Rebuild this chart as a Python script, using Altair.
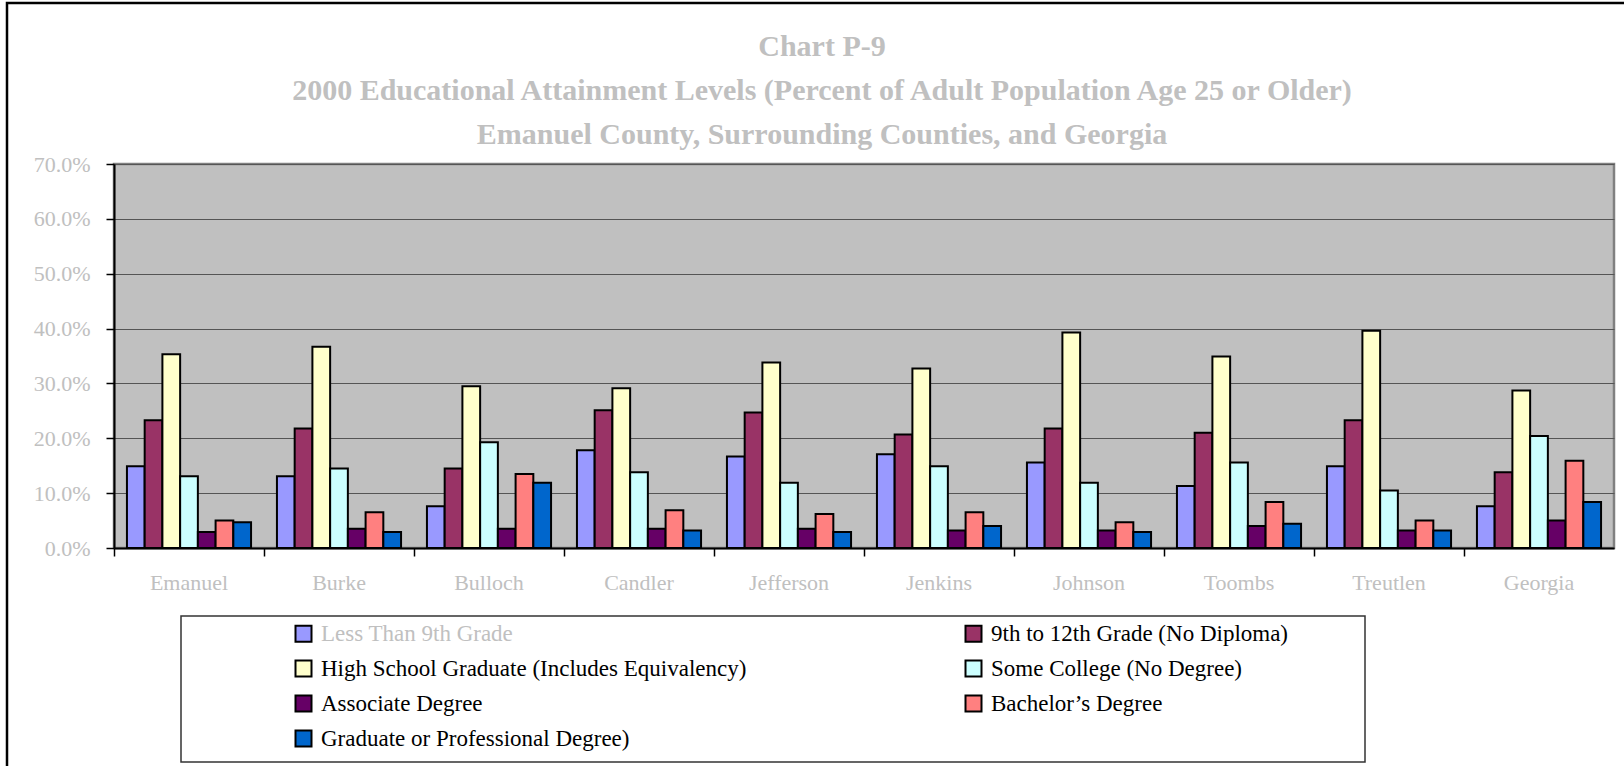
import altair as alt
import pandas as pd

# Counties along the x axis
counties = ["Emanuel", "Burke", "Bulloch", "Candler", "Jefferson",
            "Jenkins", "Johnson", "Toombs", "Treutlen", "Georgia"]

# Attainment levels (bar order within each county) and their fill colours
levels = [
    "Less Than 9th Grade",
    "9th to 12th Grade (No Diploma)",
    "High School Graduate (Includes Equivalency)",
    "Some College (No Degree)",
    "Associate Degree",
    "Bachelor\u2019s Degree",
    "Graduate or Professional Degree)",
]
level_colors = ["#9999FF", "#993366", "#FFFFCC", "#CCFFFF",
                "#660066", "#FF8080", "#0066CC"]

# Percent of adults 25+ by county, one list per attainment level
less_than_9th = [14.9, 13.1, 7.6, 17.8, 16.7, 17.1, 15.6, 11.3, 14.9, 7.6]
grade_9_to_12 = [23.3, 21.8, 14.5, 25.1, 24.7, 20.7, 21.8, 21.0, 23.3, 13.8]
high_school = [35.3, 36.7, 29.5, 29.1, 33.8, 32.7, 39.3, 34.9, 39.6, 28.7]
some_college = [13.1, 14.5, 19.3, 13.8, 11.9, 14.9, 11.9, 15.6, 10.5, 20.4]
associate = [2.9, 3.5, 3.5, 3.5, 3.5, 3.2, 3.2, 4.0, 3.2, 5.0]
bachelor = [5.0, 6.5, 13.5, 6.9, 6.2, 6.5, 4.7, 8.4, 5.0, 15.9]
graduate = [4.7, 2.9, 11.9, 3.2, 2.9, 4.0, 2.9, 4.4, 3.2, 8.4]

series = [less_than_9th, grade_9_to_12, high_school, some_college,
          associate, bachelor, graduate]

rows = []
for level, vals in zip(levels, series):
    for county, v in zip(counties, vals):
        rows.append({"County": county, "Level": level, "Percent": v})
df = pd.DataFrame(rows)

# The legend fills its two columns top to bottom; list entries so they read
# left-to-right across rows in the level order.
legend_order = [levels[i] for i in (0, 2, 4, 6, 1, 3, 5)]
legend_colors = [level_colors[i] for i in (0, 2, 4, 6, 1, 3, 5)]

FONT = "Liberation Serif"
GREY = "#c0c0c0"
W, H = 1500, 384
PAD_L, PAD_T = 114, 164

bars = alt.Chart(df).mark_bar(stroke="black", strokeWidth=2).encode(
    x=alt.X("County:N", sort=counties, title=None,
            scale=alt.Scale(paddingInner=0, paddingOuter=0),
            axis=alt.Axis(labelAngle=0, bandPosition=0,
                          tickSize=8, tickColor="black", tickWidth=1.5,
                          domainColor="black", domainWidth=2,
                          labelColor=GREY, labelFont=FONT, labelFontSize=22,
                          labelPadding=16, grid=False)),
    xOffset=alt.XOffset("Level:N", sort=levels,
                        scale=alt.Scale(paddingInner=0, paddingOuter=0.73)),
    y=alt.Y("Percent:Q", title=None,
            scale=alt.Scale(domain=[0, 70], nice=False),
            axis=alt.Axis(values=[0, 10, 20, 30, 40, 50, 60, 70],
                          labelExpr="format(datum.value, '.1f') + '%'",
                          tickSize=8, tickColor="black", tickWidth=1.5,
                          domainColor="black", domainWidth=2,
                          labelColor=GREY, labelFont=FONT, labelFontSize=22,
                          labelPadding=16,
                          grid=True, gridColor="#555555", gridWidth=1.2)),
    color=alt.Color(
        "Level:N",
        scale=alt.Scale(domain=legend_order, range=legend_colors),
        legend=alt.Legend(
            title=None, orient="none", legendX=178, legendY=458,
            columns=2, columnPadding=214, rowPadding=10,
            symbolType="square", symbolSize=256,
            symbolStrokeColor="black", symbolStrokeWidth=2,
            symbolOpacity=1,
            labelFont=FONT, labelFontSize=23,
            labelColor=alt.ExprRef(
                "datum.value === 'Less Than 9th Grade' ? '#c0c0c0' : 'black'"),
            labelOffset=6, labelLimit=600,
        ),
    ),
)

one = alt.Data(values=[{}])

# Frame around the legend
legend_box = alt.Chart(one).mark_rect(
    fill=None, stroke="#333333", strokeWidth=1.5
).encode(
    x=alt.value(67), x2=alt.value(1251),
    y=alt.value(452), y2=alt.value(598),
)

# Outer frame of the whole chart
outer_box = alt.Chart(one).mark_rect(
    fill=None, stroke="black", strokeWidth=2.5
).encode(
    x=alt.value(7 - PAD_L), x2=alt.value(1700),
    y=alt.value(3 - PAD_T), y2=alt.value(800),
)

# The title is placed from the top of the outer frame, so a negative offset
# brings it back down just above the plot.
chart = alt.layer(bars, legend_box, outer_box).properties(
    width=W, height=H,
    title=alt.TitleParams(
        text=["Chart P-9",
              "2000 Educational Attainment Levels (Percent of Adult Population Age 25 or Older)",
              "Emanuel County, Surrounding Counties, and Georgia"],
        font=FONT, fontSize=30, fontWeight="bold", color=GREY,
        lineHeight=44, anchor="middle", frame="group", dx=-42, offset=-148,
    ),
    autosize=alt.AutoSizeParams(type="none"),
    padding={"left": PAD_L, "top": PAD_T, "right": 10, "bottom": 218},
    background="white",
).configure_view(
    fill="#C0C0C0", stroke="#808080", strokeWidth=2.5
)

chart.save("out.html", embed_options={"renderer": "svg", "actions": False})
